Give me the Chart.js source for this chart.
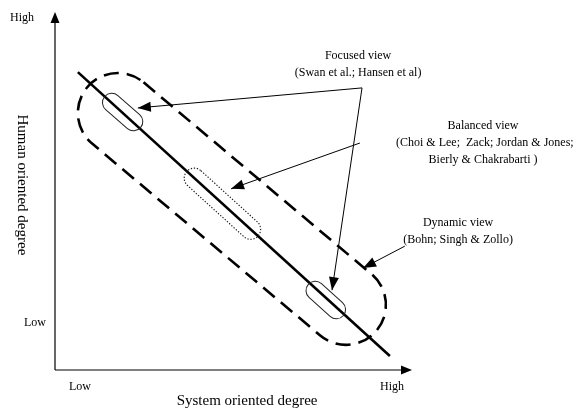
<!DOCTYPE html>
<html>
<head>
<meta charset="utf-8">
<script src="https://cdn.jsdelivr.net/npm/chart.js@4/dist/chart.umd.min.js"></script>
<style>
html,body{margin:0;padding:0;background:#fff;}
#wrap{width:588px;height:412px;}
</style>
</head>
<body>
<div id="wrap"><canvas id="c" width="588" height="412"></canvas></div>
<script>
// ---- data (degree units 0..100 on both axes) ----
const axisTicksX = [{v: 7.0, label: 'Low'}, {v: 94.4, label: 'High'}];
const axisTicksY = [{v: 13.1, label: 'Low'}, {v: 98.3, label: 'High'}];
const axisTitleX = 'System oriented degree';
const axisTitleY = 'Human oriented degree';

const diagonalLine = [{x: 6.4, y: 83.2}, {x: 93.8, y: 3.9}];

// capsules: two end centres + radius (degree units)
const dynamicRegion  = {a: {x: 17.6, y: 71.8}, b: {x: 81.5, y: 18.2}, r: 11.2};
const focusedTop     = {a: {x: 15.9, y: 74.7}, b: {x: 22.0, y: 69.4}, r: 2.6};
const focusedBottom  = {a: {x: 72.9, y: 22.2}, b: {x: 78.8, y: 16.9}, r: 2.6};
const balancedRegion = {a: {x: 39.0, y: 53.6}, b: {x: 54.8, y: 39.3}, r: 2.8};

// arrows: from -> to
const arrowFocusedTop    = [{x: 86.0, y: 78.8}, {x: 23.2, y: 73.2}];
const arrowFocusedBottom = [{x: 86.0, y: 78.8}, {x: 77.6, y: 22.3}];
const arrowBalanced      = [{x: 85.4, y: 63.4}, {x: 49.3, y: 50.6}];
const arrowDynamic       = [{x: 98.0, y: 34.6}, {x: 86.3, y: 28.5}];

// annotation texts (centre positions in degree units)
const labelFocused  = [{x: 84.9, y: 87.7, t: 'Focused view'}, {x: 84.9, y: 83.0, t: '(Swan et al.; Hansen et al)'}];
const labelBalanced = [{x: 119.9, y: 68.2, t: 'Balanced view'}, {x: 120.4, y: 63.4, t: '(Choi & Lee;  Zack; Jordan & Jones;'}, {x: 119.9, y: 58.7, t: 'Bierly & Chakrabarti )'}];
const labelDynamic  = [{x: 112.9, y: 41.1, t: 'Dynamic view'}, {x: 112.9, y: 36.3, t: '(Bohn; Singh & Zollo)'}];
const titleXPos = {x: 53.8, y: -8.7};
const titleYPos = {x: -9.2, y: 51.7};

const FONT = '12px "Liberation Serif", "Times New Roman", serif';
const TITLE_FONT = '15px "Liberation Serif", "Times New Roman", serif';

function lineDs(data, width) {
  return {data: data, showLine: true, borderColor: '#000', borderWidth: width, pointRadius: 0, fill: false, tension: 0};
}

const drawPlugin = {
  id: 'diagram',
  afterDatasetsDraw(chart) {
    const ctx = chart.ctx, xs = chart.scales.x, ys = chart.scales.y;
    const px = p => ({x: xs.getPixelForValue(p.x), y: ys.getPixelForValue(p.y)});

    // axes with arrowheads
    const o = px({x: 0, y: 0}), xe = px({x: 100, y: 0}), ye = px({x: 0, y: 100});
    ctx.save();
    ctx.strokeStyle = '#000'; ctx.fillStyle = '#000'; ctx.lineWidth = 1.2;
    ctx.beginPath(); ctx.moveTo(o.x, o.y); ctx.lineTo(xe.x - 8, xe.y); ctx.stroke();
    ctx.beginPath(); ctx.moveTo(o.x, o.y); ctx.lineTo(ye.x, ye.y + 8); ctx.stroke();
    ctx.beginPath(); ctx.moveTo(xe.x, xe.y); ctx.lineTo(xe.x - 11, xe.y - 4.5); ctx.lineTo(xe.x - 11, xe.y + 4.5); ctx.closePath(); ctx.fill();
    ctx.beginPath(); ctx.moveTo(ye.x, ye.y); ctx.lineTo(ye.x - 4.5, ye.y + 11); ctx.lineTo(ye.x + 4.5, ye.y + 11); ctx.closePath(); ctx.fill();
    ctx.restore();

    // capsules
    function capsule(c, style) {
      const a = px(c.a), b = px(c.b);
      const r = Math.abs(xs.getPixelForValue(c.r) - xs.getPixelForValue(0));
      const ang = Math.atan2(b.y - a.y, b.x - a.x);
      const len = Math.hypot(b.x - a.x, b.y - a.y);
      ctx.save();
      ctx.translate((a.x + b.x) / 2, (a.y + b.y) / 2);
      ctx.rotate(ang);
      ctx.strokeStyle = style.color; ctx.lineWidth = style.width;
      ctx.setLineDash(style.dash || []);
      ctx.beginPath();
      ctx.moveTo(-len / 2, -r);
      ctx.lineTo(len / 2, -r);
      ctx.arc(len / 2, 0, r, -Math.PI / 2, Math.PI / 2);
      ctx.lineTo(-len / 2, r);
      ctx.arc(-len / 2, 0, r, Math.PI / 2, Math.PI * 1.5);
      ctx.closePath();
      ctx.stroke();
      ctx.restore();
    }
    capsule(dynamicRegion, {color: '#000', width: 2.6, dash: [15, 8]});
    capsule(focusedTop, {color: '#222', width: 1});
    capsule(focusedBottom, {color: '#222', width: 1});
    capsule(balancedRegion, {color: '#222', width: 1.2, dash: [1.3, 1.7]});

    // arrowheads
    [arrowFocusedTop, arrowFocusedBottom, arrowBalanced, arrowDynamic].forEach(ar => {
      const s = px(ar[0]), e = px(ar[1]);
      const ang = Math.atan2(e.y - s.y, e.x - s.x);
      ctx.save();
      ctx.translate(e.x, e.y); ctx.rotate(ang);
      ctx.fillStyle = '#000';
      ctx.beginPath(); ctx.moveTo(0, 0); ctx.lineTo(-13, -5); ctx.lineTo(-13, 5); ctx.closePath(); ctx.fill();
      ctx.restore();
    });

    // texts
    ctx.save();
    ctx.fillStyle = '#000'; ctx.font = FONT;
    ctx.textAlign = 'center'; ctx.textBaseline = 'middle';
    [...labelFocused, ...labelBalanced, ...labelDynamic].forEach(l => {
      const p = px(l); ctx.fillText(l.t, p.x, p.y);
    });
    axisTicksX.forEach(t => { const p = px({x: t.v, y: 0}); ctx.fillText(t.label, p.x, p.y + 17); });
    axisTicksY.forEach(t => { const p = px({x: 0, y: t.v}); ctx.fillText(t.label, p.x - (t.label === 'High' ? 33 : 20), p.y); });
    ctx.font = TITLE_FONT;
    const tx = px(titleXPos); ctx.fillText(axisTitleX, tx.x, tx.y);
    const ty = px(titleYPos);
    ctx.translate(ty.x, ty.y); ctx.rotate(Math.PI / 2); ctx.fillText(axisTitleY, 0, 0);
    ctx.restore();
  }
};

new Chart(document.getElementById('c'), {
  type: 'scatter',
  data: {
    datasets: [
      lineDs(diagonalLine, 2.6),
      lineDs(arrowFocusedTop, 1),
      lineDs(arrowFocusedBottom, 1),
      lineDs(arrowBalanced, 1),
      lineDs(arrowDynamic, 1)
    ]
  },
  options: {
    responsive: false,
    animation: false,
    events: [],
    layout: {padding: {left: 55, top: 12, right: 176, bottom: 42}},
    plugins: {legend: {display: false}, tooltip: {enabled: false}, title: {display: false}},
    scales: {
      x: {type: 'linear', min: 0, max: 100, display: false},
      y: {type: 'linear', min: 0, max: 100, display: false}
    }
  },
  plugins: [drawPlugin]
});
</script>
</body>
</html>
